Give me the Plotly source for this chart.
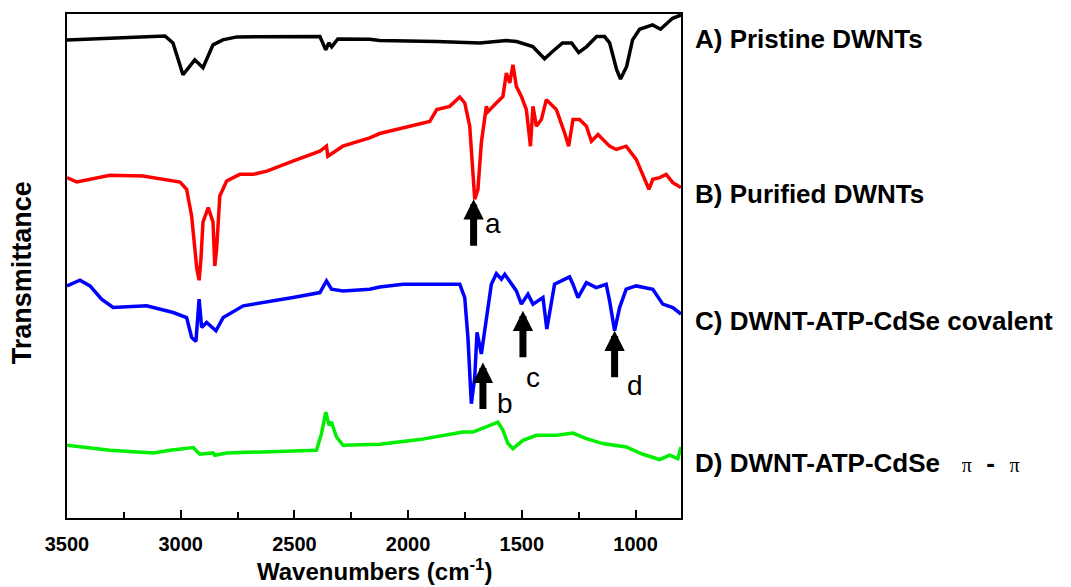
import plotly.graph_objects as go

# ---------------- data (wavenumber in cm^-1, transmittance in arbitrary units, offset traces) -------------
wn_A = [3500, 3223, 3069, 3034, 2990, 2938, 2902, 2858, 2815, 2753, 2388, 2362, 2349, 2336, 2309,
        2169, 2125, 1874, 1685, 1567, 1523, 1452, 1400, 1365, 1321, 1281, 1250, 1215, 1171, 1136,
        1114, 1083, 1066, 1039, 1013, 982, 925, 890, 864, 837, 800]
T_A = [480, 482.5, 484, 477, 445, 460, 452, 475, 480, 483, 483.3, 470, 477, 473, 481,
       480.7, 479.3, 478.3, 477, 479.3, 478.3, 473.3, 461, 468.3, 477, 477, 467.3, 473.3, 483.3, 483.3,
       477, 450, 440.7, 453.3, 480, 490.7, 495, 490.7, 496, 501.7, 505]

wn_B = [3500, 3457, 3311, 3166, 3003, 2974, 2952, 2938, 2929, 2919, 2911, 2902, 2879, 2858, 2850,
        2842, 2828, 2798, 2740, 2683, 2621, 2507, 2388, 2359, 2353, 2287, 2169, 2125, 2024, 1905,
        1874, 1817, 1773, 1751, 1729, 1707, 1693, 1678, 1656, 1649, 1612, 1583, 1568, 1553, 1539,
        1524, 1502, 1480, 1462, 1451, 1436, 1414, 1392, 1348, 1312, 1294, 1275, 1246, 1216, 1194,
        1165, 1114, 1085, 1041, 997, 960, 941, 924, 894, 865, 836, 800]
T_B = [341.7, 337.3, 344, 343.3, 337.3, 330, 303.3, 275, 250, 238.7, 260, 297, 311.7, 297, 253,
       270, 323.3, 338.3, 345, 345, 348.3, 358.3, 368.3, 373.3, 363.3, 373.3, 381.7, 386, 391.7, 398,
       410, 413.3, 422.7, 416.7, 393.3, 320, 330, 376.7, 413.3, 408, 416.7, 423.3, 446.7, 436.7, 455,
       433.3, 423.3, 410, 373.3, 413.3, 393.3, 400, 420, 410, 386.7, 373.3, 400, 400, 393.3, 378.3,
       385, 373.3, 370, 373.3, 360, 340, 330, 340, 341.7, 345, 336.7, 331.7]

wn_C = [3500, 3443, 3399, 3348, 3297, 3150, 3033, 2974, 2952, 2933, 2919, 2908, 2886, 2845, 2813,
        2725, 2506, 2388, 2359, 2337, 2286, 2169, 2125, 2022, 1773, 1751, 1737, 1722, 1707, 1697,
        1678, 1656, 1634, 1612, 1590, 1575, 1553, 1524, 1502, 1473, 1451, 1407, 1390, 1370, 1356,
        1290, 1275, 1253, 1216, 1173, 1129, 1114, 1092, 1070, 1041, 997, 924, 880, 836, 800]
T_C = [233, 238.7, 233, 219.7, 211.3, 213, 206.3, 201.3, 181.3, 177.3, 219.7, 191.3, 196.3, 188, 201.3,
       213, 221.3, 226.3, 238, 229.7, 228, 229.7, 232, 234.7, 234.7, 221.3, 181.3, 114.7, 141.3, 186.3,
       164.7, 201.3, 234.7, 245.3, 239.7, 244.7, 238, 228, 214.7, 224.7, 214.7, 221.3, 189.7, 214.7, 234.7,
       242, 234.7, 221.3, 236.3, 231.3, 234.7, 218, 188, 211.3, 229.7, 233, 229.7, 214.7, 211.3, 204.7]

wn_D = [3500, 3311, 3121, 3047, 2945, 2916, 2886, 2857, 2850, 2798, 2403, 2381, 2362, 2347, 2337,
        2315, 2286, 2169, 2125, 1949, 1759, 1715, 1656, 1605, 1583, 1561, 1539, 1495, 1436, 1348,
        1275, 1216, 1144, 1041, 968, 894, 850, 814, 800]
T_D = [73, 68, 65.3, 68, 70.7, 64, 64.7, 65.3, 63, 65.3, 68, 84.7, 106.3, 93, 96.3,
       81.3, 73, 74, 74, 78.7, 86.3, 86.3, 92, 96.3, 88, 74.7, 69.7, 78, 83, 83,
       85.3, 79.7, 74.7, 71.3, 64, 58.7, 63, 59.7, 71.3]

series_names = ["A) Pristine DWNTs", "B) Purified DWNTs", "C) DWNT-ATP-CdSe covalent",
                "D) DWNT-ATP-CdSe  \u03c0 - \u03c0"]
series_colors = ["#000000", "#FF0000", "#0000FF", "#00EE00"]
series_label_y = [481, 325, 198, 55]   # vertical position of the right-hand labels (same units as T)

arrow_labels = ["a", "b", "c", "d"]
arrow_wn = [1712, 1671, 1495, 1092]
arrow_tip = [320, 156, 208, 188]
arrow_label_wn = [1627, 1575, 1451, 1004]
arrow_label_T = [296, 115, 141, 133]

x_ticks = [3500, 3000, 2500, 2000, 1500, 1000]

# ---------------- figure ----------------
fig = go.Figure()
for wn, T, name, col in zip([wn_A, wn_B, wn_C, wn_D], [T_A, T_B, T_C, T_D], series_names, series_colors):
    fig.add_trace(go.Scatter(x=wn, y=T, mode="lines", name=name,
                             line=dict(color=col, width=3.5), showlegend=False))

FONT = "Arial, Liberation Sans, Helvetica, sans-serif"
Y0, Y1 = 0, 506

annotations = []
for name, ly in zip(series_names, series_label_y):
    if "\u03c0" in name:
        base = name.split("  ")[0]
        pi = ("<span style='font-family:Times New Roman, Liberation Serif, serif;"
              "font-weight:normal;font-size:20px'>\u03c0</span>")
        text = base + "&nbsp;&nbsp;&nbsp;" + pi + "&nbsp;&nbsp;-&nbsp;&nbsp;" + pi
    else:
        text = name
    annotations.append(dict(text=text, xref="paper", yref="y", x=1.0195, y=ly,
                            xanchor="left", yanchor="middle", showarrow=False,
                            font=dict(family=FONT, size=26, color="black", weight="bold")))

for wn, tip in zip(arrow_wn, arrow_tip):
    annotations.append(dict(text="", x=wn, y=tip, xref="x", yref="y", ax=0, ay=48,
                            showarrow=True, arrowhead=2, arrowwidth=7, arrowsize=0.58,
                            arrowcolor="black", standoff=0))
for lab, wn, t in zip(arrow_labels, arrow_label_wn, arrow_label_T):
    annotations.append(dict(text=lab, x=wn, y=t, xref="x", yref="y", showarrow=False,
                            xanchor="center", yanchor="middle",
                            font=dict(family=FONT, size=28, color="black")))

annotations.append(dict(text="Transmittance", xref="paper", yref="paper", x=-0.073, y=0.486,
                        textangle=-90, showarrow=False, xanchor="center", yanchor="middle",
                        font=dict(family=FONT, size=27, color="black", weight="bold")))
annotations.append(dict(text="Wavenumbers (cm<sup>-1</sup>)", xref="paper", yref="paper",
                        x=0.5, y=-0.104, showarrow=False, xanchor="center", yanchor="middle",
                        font=dict(family=FONT, size=24, color="black", weight="bold")))

fig.update_layout(
    width=1071, height=587,
    margin=dict(l=67, r=390, t=12, b=69),
    paper_bgcolor="white", plot_bgcolor="white",
    annotations=annotations,
    xaxis=dict(range=[3500, 800], tickmode="array", tickvals=x_ticks,
               ticktext=[str(v) for v in x_ticks],
               ticks="inside", ticklen=8, tickwidth=1.5, tickcolor="black",
               minor=dict(ticks="inside", ticklen=6, tickwidth=1.5, tickcolor="black",
                          tickmode="array", tickvals=[3250, 2750, 2250, 1750, 1250]),
               showline=True, linecolor="black", linewidth=1.5, mirror=True,
               showgrid=False, zeroline=False, ticklabelstandoff=7,
               tickfont=dict(family=FONT, size=20, color="black", weight="bold")),
    yaxis=dict(range=[Y0, Y1], showticklabels=False, ticks="",
               showline=True, linecolor="black", linewidth=1.5, mirror=True,
               showgrid=False, zeroline=False),
)

fig.write_html("out.html")
